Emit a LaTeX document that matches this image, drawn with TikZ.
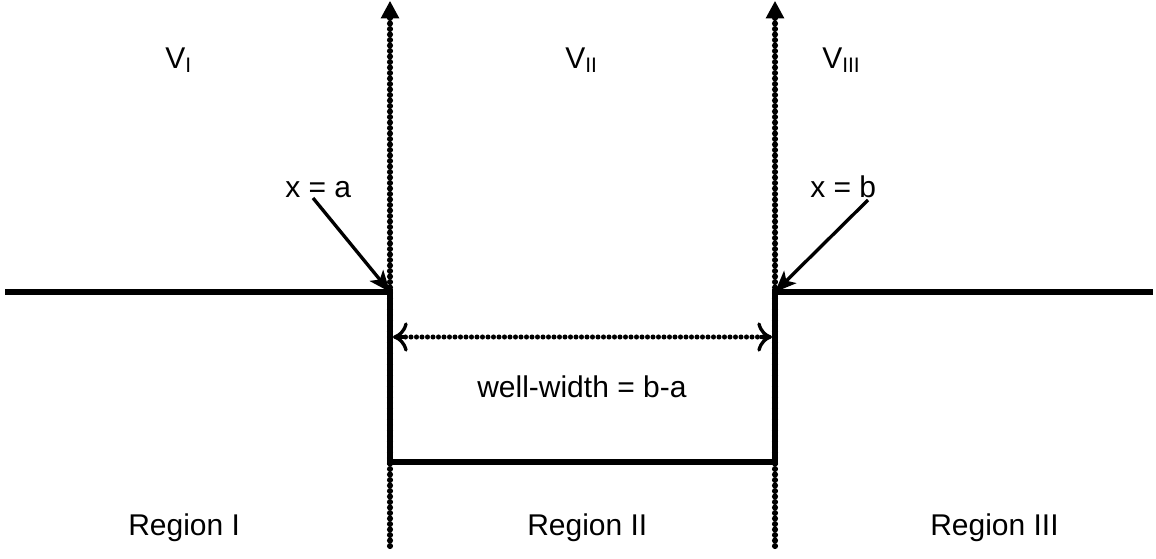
\documentclass[tikz,border=0pt]{standalone}
\usepackage{fontspec}
\setmainfont{Liberation Sans}
\usetikzlibrary{arrows.meta}
\begin{document}
\begin{tikzpicture}[x=0.75pt,y=-0.75pt,
  wall/.style={line width=3.8pt},
  dotmark/.style={fill=black},
  pointer/.style={line width=2.5pt,-{Stealth[length=16pt,width=13pt,inset=4pt]}},
  openhead/.style={line width=2.5pt,-{To[length=11pt,width=22pt]}},
  lbl/.style={font=\fontsize{22.5}{27}\selectfont,inner sep=0pt,anchor=base west}]
\useasboundingbox (0,0) rectangle (1156,558);
% coordinates
\coordinate (LB) at (390,548);
\coordinate (LT) at (390,1);
\coordinate (RB) at (775,548);
\coordinate (RT) at (775,1);
\coordinate (L0) at (8,292);
\coordinate (L1) at (390,292);
\coordinate (L2) at (390,462);
\coordinate (R2) at (775,462);
\coordinate (R1) at (775,292);
\coordinate (R0) at (1150,292);
\coordinate (WL) at (393,337);
\coordinate (WR) at (772,337);
\coordinate (WLs) at (405,337);
\coordinate (WRs) at (760,337);
% dotted vertical lines
\foreach \y in {18,23.5,...,548} {
  \fill[dotmark] (390,\y) circle[radius=2.3pt];
  \fill[dotmark] (775,\y) circle[radius=2.3pt];
}
\draw[line width=2pt,-{Triangle[length=13pt,width=13.5pt]}] (390,18) -- (LT);
\draw[line width=2pt,-{Triangle[length=13pt,width=13.5pt]}] (775,18) -- (RT);
% well profile
\draw[wall,line cap=rect] (L0) -- (L1) -- (L2) -- (R2) -- (R1) -- (R0);
% width arrow (dotted shaft, open heads)
\foreach \x in {400,405.5,...,766} {
  \fill[dotmark] (\x,337) circle[radius=1.9pt];
}
\draw[openhead] (WLs) -- (WL);
\draw[openhead] (WRs) -- (WR);
% labels
\node[lbl] (v1) at (165,68) {V\textsubscript{I}};
\node[lbl] (v2) at (565,68) {V\textsubscript{II}};
\node[lbl] (v3) at (822,68) {V\textsubscript{III}};
\node[lbl] (xa) at (285,197) {x = a};
\node[lbl] (xb) at (810,197) {x = b};
\node[lbl] (ww) at (477,397) {well-width = b-a};
\node[lbl] (r1) at (128,535) {Region I};
\node[lbl] (r2) at (527,535) {Region II};
\node[lbl] (r3) at (930,535) {Region III};
% pointers
\draw[pointer] (313,198) -- (L1);
\draw[pointer] (868,200) -- (R1);
\end{tikzpicture}
\end{document}
